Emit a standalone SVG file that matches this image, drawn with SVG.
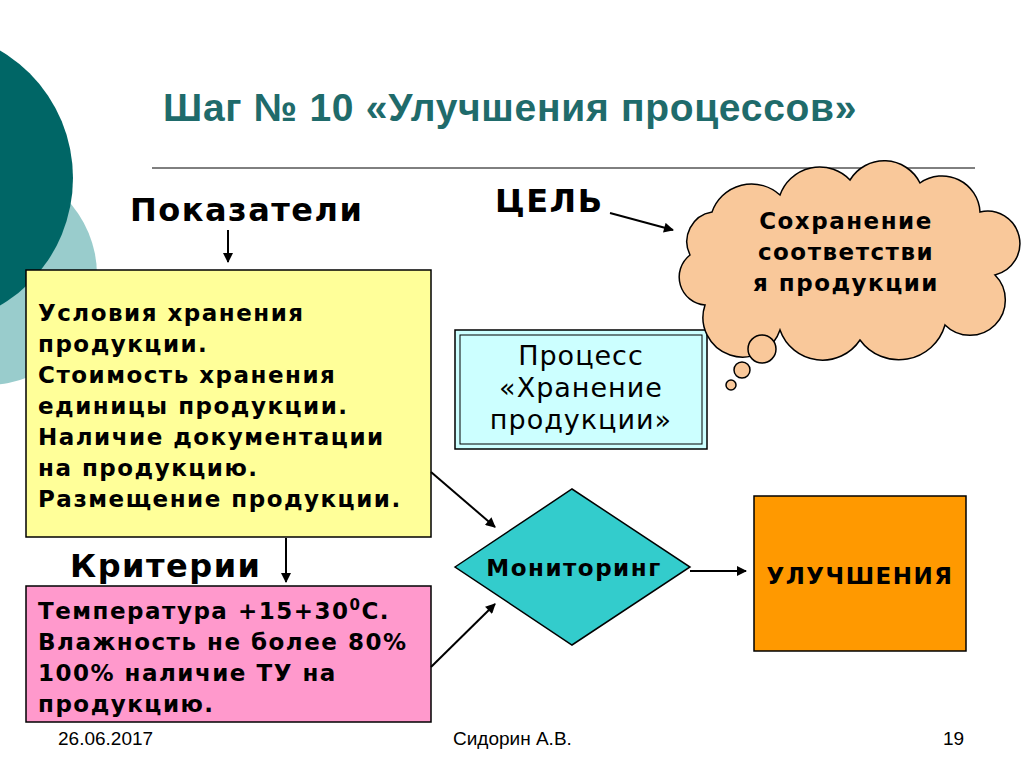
<svg xmlns="http://www.w3.org/2000/svg" width="1024" height="767" viewBox="0 0 1024 767">
<defs>
<marker id="ah" viewBox="0 0 10 10" refX="9" refY="5" markerWidth="12" markerHeight="10" orient="auto" markerUnits="userSpaceOnUse"><path d="M0,0 L10,5 L0,10 Z" fill="#000"/></marker>
<style>
.b{font-family:"DejaVu Sans",Verdana,sans-serif;font-weight:bold;font-size:23px;letter-spacing:1.5px;fill:#000}
.n{font-family:"DejaVu Sans",Verdana,sans-serif;font-size:27px;letter-spacing:1px;fill:#000}
.h{font-family:"DejaVu Sans",Verdana,sans-serif;font-weight:bold;font-size:32px;letter-spacing:1.5px;fill:#000}
.f{font-family:"Liberation Sans",Arial,sans-serif;font-size:19px;fill:#000}
.bx{stroke:#000;stroke-width:1.5}
.c{stroke:#000;stroke-width:2;fill:none;marker-end:url(#ah)}
</style>
</defs>
<rect width="1024" height="767" fill="#fff"/>
<circle cx="-13" cy="275" r="110" fill="#99cccc"/>
<circle cx="-75" cy="178" r="148" fill="#006666"/>
<text x="163" y="121" font-family="Liberation Sans,Arial,sans-serif" font-weight="bold" font-size="39" letter-spacing="0.7" fill="#1f6b6b">Шаг № 10 «Улучшения процессов»</text>
<line x1="152" y1="168" x2="975" y2="168" stroke="#000" stroke-width="1"/>
<text x="130" y="221" class="h">Показатели</text>
<text x="495" y="212" class="h">ЦЕЛЬ</text>
<text x="70" y="577" class="h">Критерии</text>
<g id="yellow"><rect x="26" y="270" width="405" height="267" fill="#ffff99" class="bx"/>
<text class="b"><tspan x="38" y="321">Условия хранения</tspan><tspan x="38" y="352">продукции.</tspan><tspan x="38" y="383">Стоимость хранения</tspan><tspan x="38" y="414">единицы продукции.</tspan><tspan x="38" y="445">Наличие документации</tspan><tspan x="38" y="476">на продукцию.</tspan><tspan x="38" y="507">Размещение продукции.</tspan></text></g>
<g id="pink"><rect x="26" y="586" width="405" height="136" fill="#ff99cc" class="bx"/>
<text class="b"><tspan x="38" y="619">Температура +15+30</tspan><tspan font-size="15" dy="-9">0</tspan><tspan dy="9">С.</tspan><tspan x="38" y="650">Влажность не более 80%</tspan><tspan x="38" y="681">100% наличие ТУ на</tspan><tspan x="38" y="712">продукцию.</tspan></text></g>
<g id="process"><rect x="455" y="330" width="252" height="119" fill="#ccffff" class="bx"/><rect x="460" y="335" width="242" height="109" fill="none" stroke="#000" stroke-width="1"/>
<text class="n" text-anchor="middle"><tspan x="581" y="365">Процесс</tspan><tspan x="581" y="397">«Хранение</tspan><tspan x="581" y="429">продукции»</tspan></text></g>
<g id="cloud"><path d="M705,305 A28 28 0 0 1 690,255 A30 30 0 0 1 712,212 A42 42 0 0 1 780,195 A42 42 0 0 1 850,180 A40 40 0 0 1 920,183 A38 38 0 0 1 980,212 A30 30 0 0 1 995,275 A35 35 0 0 1 945,325 A48 48 0 0 1 860,340 A45 45 0 0 1 780,330 A38 38 0 0 1 705,305 Z" fill="#f9c89a" class="bx"/>
<circle cx="762" cy="349" r="14" fill="#f9c89a" class="bx"/><circle cx="742" cy="370" r="8" fill="#f9c89a" class="bx"/><circle cx="731" cy="385" r="5" fill="#f9c89a" class="bx"/>
<text class="b" text-anchor="middle"><tspan x="846" y="229">Сохранение</tspan><tspan x="846" y="260">соответстви</tspan><tspan x="846" y="291">я продукции</tspan></text></g>
<g id="monitor"><polygon points="455,567 572,489 690,567 572,645" fill="#33cccc" class="bx"/><text x="574" y="576" class="b" text-anchor="middle" font-size="22">Мониторинг</text></g>
<g id="improve"><rect x="754" y="496" width="212" height="155" fill="#ff9900" class="bx"/><text x="860" y="584" class="b" text-anchor="middle">УЛУЧШЕНИЯ</text></g>
<g id="connectors">
<line x1="228" y1="230" x2="228" y2="262" class="c"/>
<line x1="610" y1="213" x2="673" y2="230" class="c"/>
<line x1="431" y1="472" x2="495" y2="527" class="c"/>
<line x1="431" y1="667" x2="495" y2="604" class="c"/>
<line x1="690" y1="571" x2="746" y2="571" class="c"/>
<line x1="286" y1="538" x2="286" y2="582" class="c"/>
</g>
<text x="58" y="745" class="f">26.06.2017</text>
<text x="453" y="745" class="f">Сидорин А.В.</text>
<text x="943" y="745" class="f">19</text>
</svg>
